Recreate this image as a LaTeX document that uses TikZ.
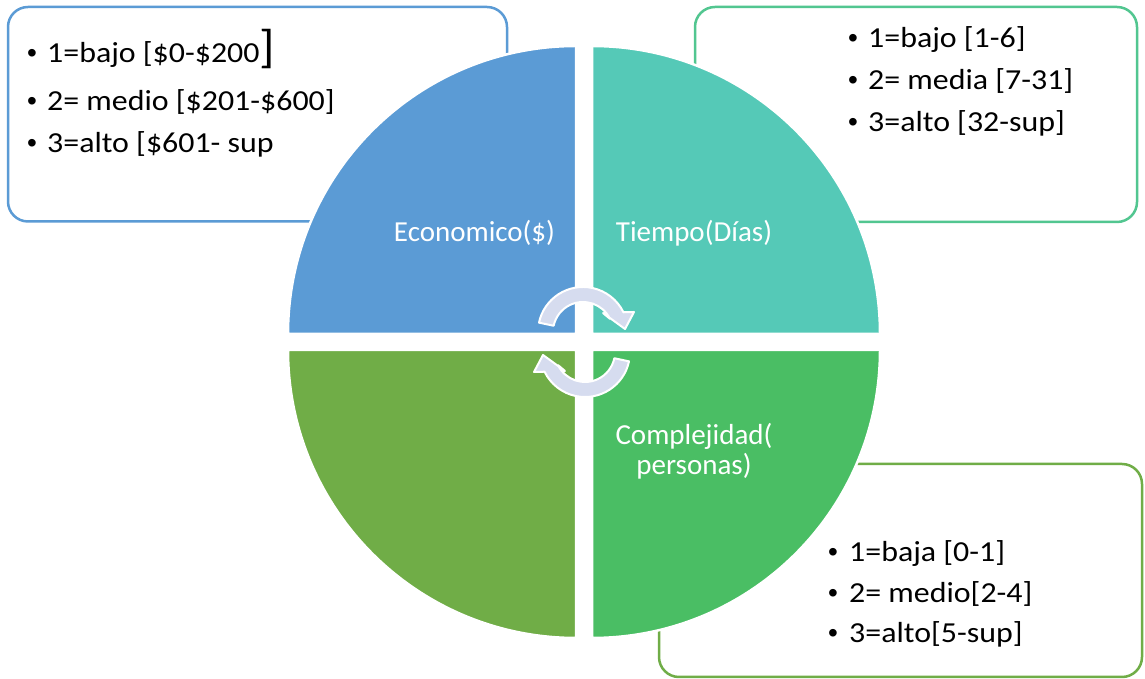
\documentclass[tikz,border=0pt]{standalone}
\usepackage{fontspec}
\setmainfont{Carlito}
\newfontfamily\boxfont[FakeStretch=1.1]{Carlito}
\newfontfamily\bulletfont{Liberation Sans}
\definecolor{cEco}{HTML}{5B9BD5}
\definecolor{cTie}{HTML}{55C9B7}
\definecolor{cCom}{HTML}{4ABE64}
\definecolor{cBL}{HTML}{70AD47}
\definecolor{cTieBox}{HTML}{52C690}
\definecolor{cArrow}{HTML}{D6DCEF}
\begin{document}
\begin{tikzpicture}[x=1pt,y=1pt,
  infobox/.style={rounded corners=20pt, line width=2.5pt, fill=white},
  quad/.style={draw=white, line width=2.5pt},
  cyc/.style={fill=cArrow, draw=white, line width=2pt, line join=round},
  item/.style={anchor=base west, inner sep=0pt, font=\boxfont\fontsize{29}{34}\selectfont},
  dot/.style={anchor=base, inner sep=0pt, font=\bulletfont\fontsize{28}{34}\selectfont},
  qlabel/.style={text=white, anchor=base, inner sep=0pt, font=\fontsize{29}{34}\selectfont}]
\useasboundingbox (0,0) rectangle (1145,679);
\fill[white] (0,0) rectangle (1145,679);
% boxes
\draw[infobox, draw=cEco] (8,457.5) rectangle (507,672);
\draw[infobox, draw=cTieBox] (695,457) rectangle (1137,672);
\draw[infobox, draw=cBL] (659,2) rectangle (1142,215);
% quadrants
\filldraw[quad, fill=cEco] (576,345) -- (288,345) arc[start angle=180, end angle=90, radius=288] -- cycle;
\filldraw[quad, fill=cTie] (592,345) -- (592,633) arc[start angle=90, end angle=0, radius=288] -- cycle;
\filldraw[quad, fill=cBL] (576,329) -- (576,41) arc[start angle=270, end angle=180, radius=288] -- cycle;
\filldraw[quad, fill=cCom] (592,329) -- (880,329) arc[start angle=0, end angle=-90, radius=288] -- cycle;
% cycle arrows
\begin{scope}[shift={(583,347)}]
\filldraw[cyc] (168:45) arc[start angle=168, end angle=26, radius=45] -- (51,20) -- (42,3) -- (20,19) -- (26:30) arc[start angle=26, end angle=168, radius=30] -- cycle;
\end{scope}
\begin{scope}[shift={(585,327)}, rotate=180]
\filldraw[cyc] (168:45) arc[start angle=168, end angle=26, radius=45] -- (51,20) -- (42,3) -- (20,19) -- (26:30) arc[start angle=26, end angle=168, radius=30] -- cycle;
\end{scope}
% quadrant labels
\node[qlabel] (eco) at (474.5,437) {Economico(\$)};
\node[qlabel] (tie) at (694,437) {Tiempo(Días)};
\node[qlabel] (com1) at (694,234) {Complejidad(};
\node[qlabel] (com2) at (694,204) {personas)};
% economic box
\node[dot] (e1d) at (32,616) {•};
\node[item] (e1) at (47,616) {1=bajo [\$0-\$200{\fontsize{46}{46}\selectfont]}};
\node[dot] (e2d) at (32,568) {•};
\node[item] (e2) at (47,568) {2= medio [\$201-\$600]};
\node[dot] (e3d) at (32,526) {•};
\node[item] (e3) at (47,526) {3=alto [\$601- sup};
% time box
\node[dot] (t1d) at (853,631) {•};
\node[item] (t1) at (868,631) {1=bajo [1-6]};
\node[dot] (t2d) at (853,589) {•};
\node[item] (t2) at (868,589) {2= media [7-31]};
\node[dot] (t3d) at (853,547) {•};
\node[item] (t3) at (868,547) {3=alto [32-sup]};
% complexity box
\node[dot] (c1d) at (833,117) {•};
\node[item] (c1) at (849,117) {1=baja [0-1]};
\node[dot] (c2d) at (833,76) {•};
\node[item] (c2) at (849,76) {2= medio[2-4]};
\node[dot] (c3d) at (833,36) {•};
\node[item] (c3) at (849,36) {3=alto[5-sup]};
\end{tikzpicture}
\end{document}
